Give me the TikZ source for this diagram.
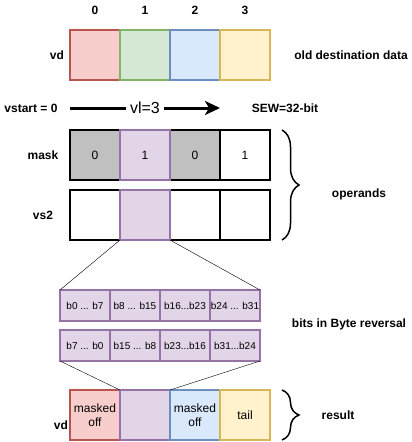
\documentclass[tikz,border=0pt]{standalone}
\usepackage{fontspec}
\setmainfont{Liberation Sans}
\usetikzlibrary{arrows.meta,decorations.pathreplacing}

\definecolor{redfill}{HTML}{F8CECC}
\definecolor{redline}{HTML}{B85450}
\definecolor{greenfill}{HTML}{D5E8D4}
\definecolor{greenline}{HTML}{82B366}
\definecolor{bluefill}{HTML}{DAE8FC}
\definecolor{blueline}{HTML}{6C8EBF}
\definecolor{yellowfill}{HTML}{FFF2CC}
\definecolor{yellowline}{HTML}{D6B656}
\definecolor{purplefill}{HTML}{E1D5E7}
\definecolor{purpleline}{HTML}{9673A6}
\definecolor{maskgray}{HTML}{C0C0C0}

\begin{document}
\begin{tikzpicture}[x=1pt,y=-1pt,
    cell/.style={draw,line width=1.5pt,minimum width=50pt,minimum height=50pt,inner sep=0pt,outer sep=0pt,align=center,font=\fontsize{12}{14}\selectfont},
    bitcell/.style={draw=purpleline,fill=purplefill,line width=1.5pt,minimum width=50pt,minimum height=31pt,inner sep=0pt,outer sep=0pt,font=\fontsize{10}{12}\selectfont},
    lbl/.style={font=\bfseries\fontsize{12}{14}\selectfont},
    bracket/.style={decorate,decoration={brace,amplitude=17pt},line width=1.5pt}]
    \useasboundingbox (0,0) rectangle (412,442);
    % element indices
    \node[lbl] (idx0) at (95,10) {0};
    \node[lbl] (idx1) at (145,10) {1};
    \node[lbl] (idx2) at (195,10) {2};
    \node[lbl] (idx3) at (245,10) {3};
    % old destination register
    \node[lbl] (vdtop) at (57,55) {vd};
    \node[cell,draw=redline,fill=redfill] (old0) at (95,55) {};
    \node[cell,draw=greenline,fill=greenfill] (old1) at (145,55) {};
    \node[cell,draw=blueline,fill=bluefill] (old2) at (195,55) {};
    \node[cell,draw=yellowline,fill=yellowfill] (old3) at (245,55) {};
    \node[lbl] (olddata) at (351,55) {old destination data};
    % vector length
    \node[lbl] (vstart) at (31,108) {vstart = 0};
    \node[font=\fontsize{16}{18}\selectfont,inner sep=3.5pt] (vl) at (145,108) {vl=3};
    \coordinate (vlbegin) at (70,108);
    \coordinate (vlend) at (220,108);
    \draw[line width=3pt] (vlbegin) -- (vl);
    \draw[line width=3pt,-{Stealth[length=15pt,width=14pt,inset=4pt]}] (vl) -- (vlend);
    \node[lbl] (sew) at (285,108) {SEW=32-bit};
    % mask and source
    \node[lbl] (masklbl) at (43,155) {mask};
    \node[cell,fill=maskgray] (mask0) at (95,155) {0};
    \node[cell,fill=maskgray] (mask2) at (195,155) {0};
    \node[cell] (mask3) at (245,155) {1};
    \node[lbl] (vslbl) at (43,215) {vs2};
    \node[cell] (vs0) at (95,215) {};
    \node[cell] (vs2) at (195,215) {};
    \node[cell] (vs3) at (245,215) {};
    \node[cell,draw=purpleline,fill=purplefill] (mask1) at (145,155) {1};
    \node[cell,draw=purpleline,fill=purplefill] (vs1) at (145,215) {};
    \draw[bracket] (282,130) -- (282,240);
    \node[lbl] (operands) at (359,194) {operands};
    % byte view of element 1
    \node[bitcell] (byte0) at (85,305.5) {b0 ... b7};
    \node[bitcell] (byte1) at (135,305.5) {b8 ... b15};
    \node[bitcell] (byte2) at (185,305.5) {b16...b23};
    \node[bitcell] (byte3) at (235,305.5) {b24 ... b31};
    \node[bitcell] (rev0) at (85,345.5) {b7 ... b0};
    \node[bitcell] (rev1) at (135,345.5) {b15 ... b8};
    \node[bitcell] (rev2) at (185,345.5) {b23...b16};
    \node[bitcell] (rev3) at (235,345.5) {b31...b24};
    \node[lbl] (bytelbl) at (349,324) {bits in Byte reversal};
    \draw (vs1.south west) -- (byte0.north west);
    \draw (vs1.south east) -- (byte3.north east);
    % result register
    \node[cell,draw=redline,fill=redfill] (res0) at (95,415) {masked\\off};
    \node[cell,draw=purpleline,fill=purplefill] (res1) at (145,415) {};
    \node[cell,draw=blueline,fill=bluefill] (res2) at (195,415) {masked\\off};
    \node[cell,draw=yellowline,fill=yellowfill] (res3) at (245,415) {tail};
    \node[lbl] (vdbot) at (61,425) {vd};
    \draw (rev0.south west) -- (res1.north west);
    \draw (rev3.south east) -- (res1.north east);
    \draw[bracket] (282,390) -- (282,440);
    \node[lbl] (result) at (338,415) {result};
\end{tikzpicture}
\end{document}
